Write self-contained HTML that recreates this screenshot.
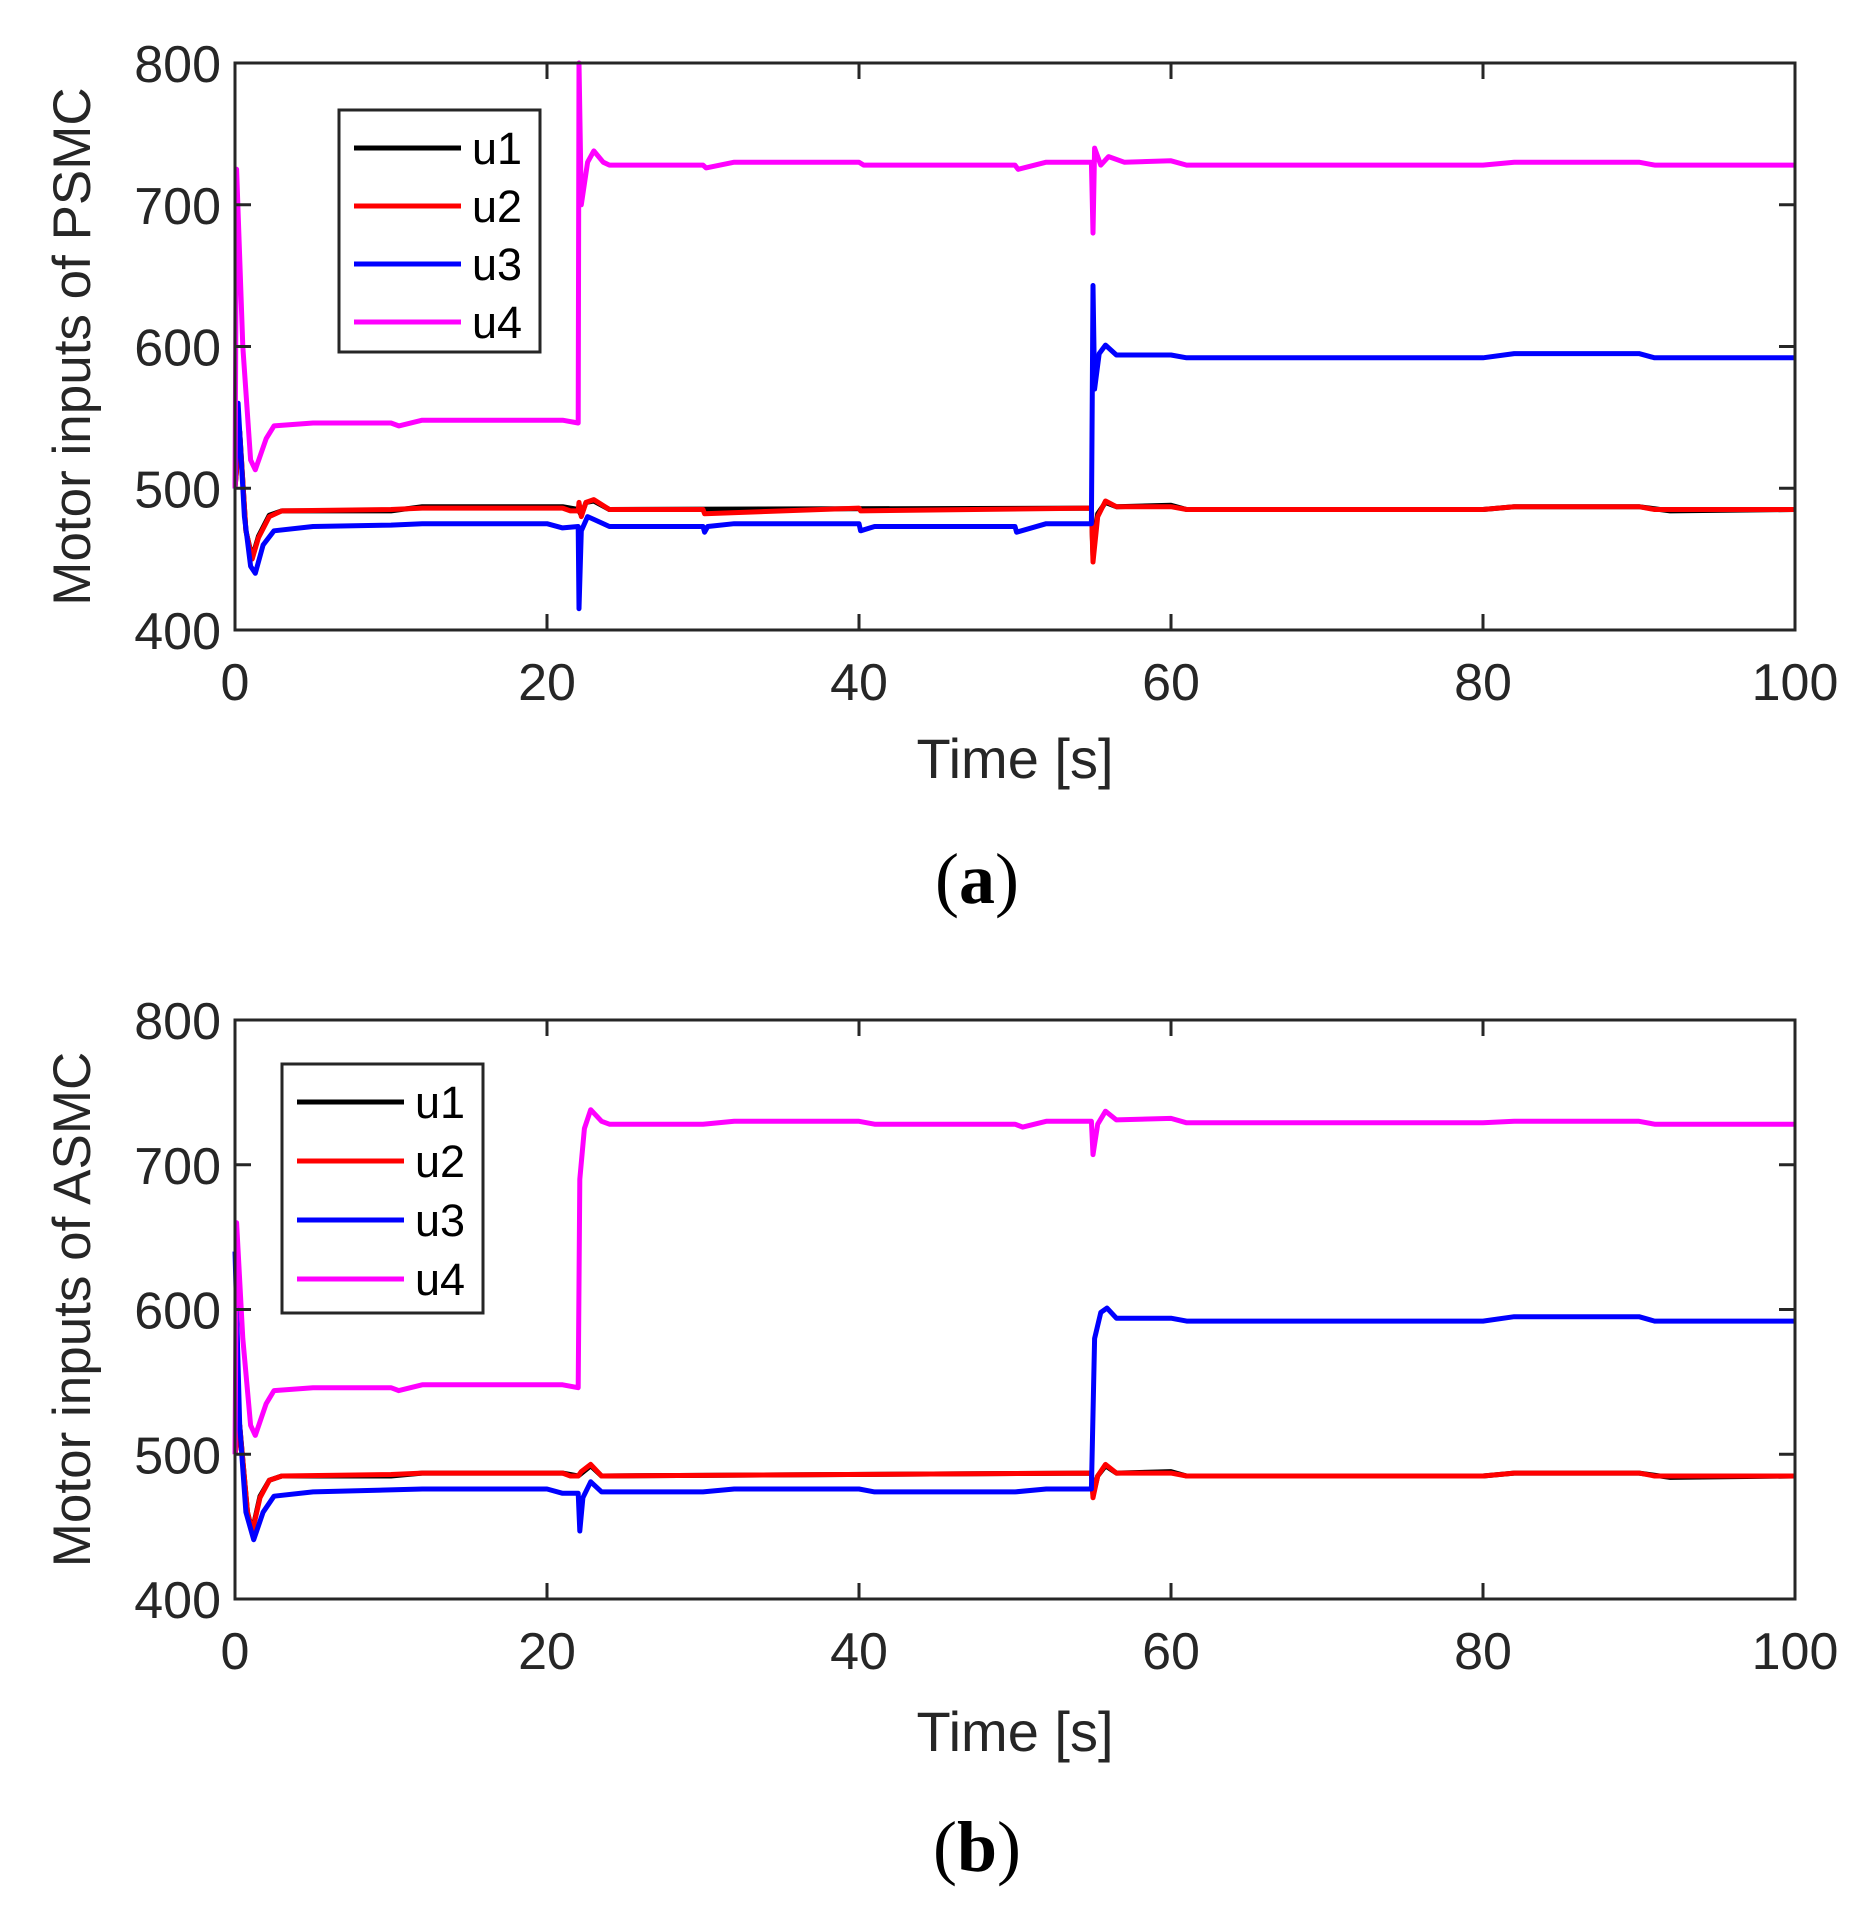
<!DOCTYPE html>
<html><head><meta charset="utf-8"><style>
html,body{margin:0;padding:0;background:#fff;}
svg{display:block;font-family:"Liberation Sans",Arial,sans-serif;}
</style></head><body>
<svg id="fig" width="1866" height="1910" viewBox="0 0 1866 1910"></svg>
<script>
const xTicks=[0,20,40,60,80,100];
const yTicks=[400,500,600,700,800];
const seriesNames=["u1","u2","u3","u4"];
const seriesColors=["#000000","#ff0000","#0000ff","#ff00ff"];
// Panel (a) PSMC
const a_u4_t=[0,0.1,0.5,1,1.3,2,2.5,5,10,10.5,12,20,21,22,22.05,22.2,22.6,23,23.6,24,30,30.2,32,40,40.3,41,50,50.2,52,54.9,55,55.1,55.5,56,57,60,61,80,82,90,91,100];
const a_u4_v=[500,725,600,520,513,535,544,546,546,544,548,548,548,546,800,700,730,738,730,728,728,726,730,730,728,728,728,725,730,730,680,740,728,734,730,731,728,728,730,730,728,728];
const a_u3_t=[0,0.2,0.6,1,1.3,1.8,2.5,5,10,12,20,21,22,22.05,22.2,22.6,23,24,30,30.1,30.3,32,40,40.1,41,50,50.1,52,54.9,55,55.1,55.4,55.8,56.5,60,61,80,82,90,91,100];
const a_u3_v=[500,560,480,445,440,460,470,473,474,475,475,472,473,415,470,480,478,473,473,469,473,475,475,470,473,473,469,475,475,643,570,595,601,594,594,592,592,595,595,592,592];
const a_u2_t=[0,0.3,0.7,1.1,1.5,2.2,3,10,12,21,21.5,22,22.05,22.2,22.5,23,24,30,30.1,40,40.1,54.9,55,55.3,55.8,56.5,60,61,80,82,90,91,100];
const a_u2_v=[500,540,470,450,465,480,484,485,486,486,484,484,490,480,490,492,485,485,482,486,484,486,448,480,491,487,487,485,485,487,487,485,485];
const a_u1_t=[0,0.3,0.7,1.1,1.5,2.2,3,10,12,20,21,22,22.2,22.5,23,24,54.9,55,55.3,55.8,56.5,60,61,80,82,90,92,100];
const a_u1_v=[500,540,470,451,466,481,484,484,487,487,487,485,481,490,491,485,486,452,482,490,487,488,485,485,487,487,484,485];
// Panel (b) ASMC
const b_u4_t=[0,0.1,0.5,1,1.3,2,2.5,5,10,10.5,12,20,21,22,22.1,22.4,22.8,23.5,24,30,32,40,41,50,50.5,52,54.9,55,55.3,55.8,56.5,60,61,80,82,90,91,100];
const b_u4_v=[500,660,580,520,513,535,544,546,546,544,548,548,548,546,690,725,738,730,728,728,730,730,728,728,726,730,730,707,728,737,731,732,729,729,730,730,728,728];
const b_u3_t=[0,0.3,0.7,1.2,1.8,2.5,5,12,20,21,22,22.1,22.3,22.8,23.5,30,32,40,41,50,52,54.9,55.1,55.5,55.9,56.5,60,61,80,82,90,91,100];
const b_u3_v=[640,520,460,441,460,471,474,476,476,473,473,447,470,481,474,474,476,476,474,474,476,476,580,598,601,594,594,592,592,595,595,592,592];
const b_u2_t=[0,0.3,0.8,1.1,1.6,2.2,3,10,12,21,21.5,22,22.2,22.8,23.5,54.9,55,55.3,55.8,56.5,60,61,80,82,90,91,100];
const b_u2_v=[500,520,460,446,470,482,485,486,487,487,485,485,488,493,485,487,470,485,493,487,487,485,485,487,487,485,485];
const b_u1_t=[0,0.3,0.8,1.1,1.6,2.2,3,10,12,20,21,22,22.8,23.5,54.9,55,55.3,55.8,56.5,60,61,80,82,90,92,100];
const b_u1_v=[500,520,460,447,471,482,485,485,487,487,487,485,492,485,487,472,485,492,487,488,485,485,487,487,484,485];

const NS="http://www.w3.org/2000/svg";
const svg=document.getElementById('fig');
function mk(tag,attrs,parent){const e=document.createElementNS(NS,tag);for(const k in attrs)e.setAttribute(k,attrs[k]);(parent||svg).appendChild(e);return e;}

function panel(cfg){
  const L=235,R=1795,T=cfg.top,B=cfg.bottom;
  const g=mk('g',{});
  
  
  const xs=v=>L+(v-0)/(100-0)*(R-L);
  const ys=v=>B-(v-400)/(800-400)*(B-T);
  cfg.series.forEach((s,i)=>{
    const pts=s.t.map((t,j)=>xs(t).toFixed(1)+','+ys(Math.min(800,s.v[j])).toFixed(1)).join(' ');
    const pl=mk('polyline',{points:pts,fill:'none',stroke:seriesColors[i],'stroke-width':5,'stroke-linejoin':'round'},g);
    
    
  });
  const fr=mk('rect',{x:L,y:T,width:R-L,height:B-T,fill:'none',stroke:'#262626','stroke-width':3},g);
  
  
  xTicks.forEach(v=>{
    const x=xs(v);
    mk('line',{x1:x,y1:B,x2:x,y2:B-16,stroke:'#262626','stroke-width':3},g);
    mk('line',{x1:x,y1:T,x2:x,y2:T+16,stroke:'#262626','stroke-width':3},g);
    const tx=mk('text',{x:x,y:B+70,'font-size':52,'text-anchor':'middle',fill:'#262626'},g);
    tx.textContent=v;
    
    
  });
  yTicks.forEach(v=>{
    const y=ys(v);
    mk('line',{x1:L,y1:y,x2:L+16,y2:y,stroke:'#262626','stroke-width':3},g);
    mk('line',{x1:R,y1:y,x2:R-16,y2:y,stroke:'#262626','stroke-width':3},g);
    const tx=mk('text',{x:L-14,y:y+19,'font-size':52,'text-anchor':'end',fill:'#262626'},g);
    tx.textContent=v;
    
    
  });
  const xl=mk('text',{x:1015,y:cfg.xlabelY,'font-size':56,'text-anchor':'middle',fill:'#262626'},g);
  xl.textContent='Time [s]';
  
  
  const cy=(T+B)/2;
  const yl=mk('text',{x:0,y:0,'font-size':53,'text-anchor':'middle',fill:'#262626',transform:`translate(90,${cy}) rotate(-90)`},g);
  yl.textContent=cfg.ylabel;
  
  
  const lg=mk('g',{},g);
  
  
  mk('rect',{x:cfg.lx,y:cfg.ly,width:201,height:cfg.lh,fill:'#fff',stroke:'#262626','stroke-width':3},lg);
  seriesNames.forEach((n,i)=>{
    const y=cfg.ly+38+i*cfg.lstep;
    const ln=mk('line',{x1:cfg.lx+15,y1:y,x2:cfg.lx+122,y2:y,stroke:seriesColors[i],'stroke-width':5},lg);
    
    
    const t=mk('text',{x:cfg.lx+133,y:y+16,'font-size':45,fill:'#000'},lg);
    t.textContent=n;
    
    
  });
  const cap=mk('text',{x:977,y:cfg.capY,'font-size':72,'text-anchor':'middle','font-family':'Liberation Serif, serif',fill:'#000'},g);
  cap.innerHTML='(<tspan font-weight="bold">'+cfg.cap+'</tspan>)';
  
  
}
panel({name:'panel-a',top:63,bottom:630,xlabelY:778,ylabel:'Motor inputs of PSMC',cap:'a',capY:903,lx:339,ly:110,lh:242,lstep:58,
  series:[{t:a_u1_t,v:a_u1_v},{t:a_u2_t,v:a_u2_v},{t:a_u3_t,v:a_u3_v},{t:a_u4_t,v:a_u4_v}]});
panel({name:'panel-b',top:1020,bottom:1599,xlabelY:1751,ylabel:'Motor inputs of ASMC',cap:'b',capY:1871,lx:282,ly:1064,lh:249,lstep:59,
  series:[{t:b_u1_t,v:b_u1_v},{t:b_u2_t,v:b_u2_v},{t:b_u3_t,v:b_u3_v},{t:b_u4_t,v:b_u4_v}]});
</script>
</body></html>
